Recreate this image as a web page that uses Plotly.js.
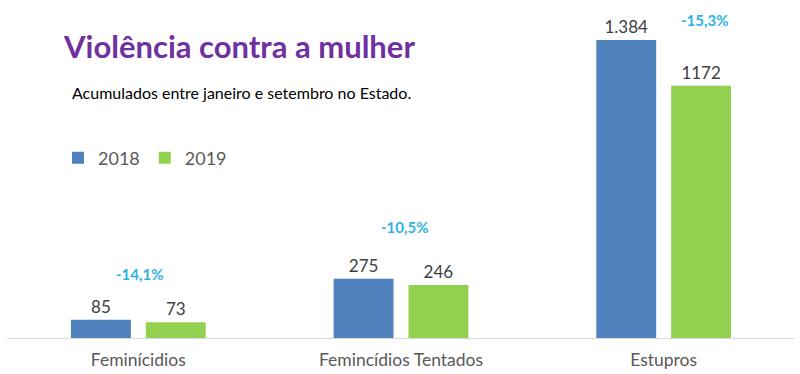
<!DOCTYPE html>
<html>
<head>
<meta charset="utf-8">
<script src="https://cdn.plot.ly/plotly-3.0.1.min.js"></script>
<style>html,body{margin:0;padding:0;background:#fff;}#chart{width:800px;height:374px;}</style>
</head>
<body>
<div id="chart"></div>
<script>
const categories = ["Feminícidios", "Femincídios Tentados", "Estupros"];
const values2018 = [85, 275, 1384];
const values2019 = [73, 246, 1172];
const labels2018 = ["85", "275", "1.384"];
const labels2019 = ["73", "246", "1172"];
const changeLabels = ["-14,1%", "-10,5%", "-15,3%"];
const changeY = [297, 515, 1477];
const changeShift = [2, 4, 41];

const FONT = "Lato, 'Open Sans', sans-serif";

const traces = [
  {type: "bar", name: "2018", x: categories, y: values2018, text: labels2018,
   textposition: "outside", cliponaxis: false,
   textfont: {family: FONT, size: 17, color: "#404040"},
   marker: {color: "#4f81bd"}, hoverinfo: "none"},
  {type: "bar", name: "2019", x: categories, y: values2019, text: labels2019,
   textposition: "outside", cliponaxis: false,
   textfont: {family: FONT, size: 17, color: "#404040"},
   marker: {color: "#92d050"}, hoverinfo: "none"}
];

const annotations = changeLabels.map((t, i) => ({
  x: categories[i], y: changeY[i], xref: "x", yref: "y", xshift: changeShift[i],
  text: "<b>" + t + "</b>", showarrow: false,
  font: {family: FONT, size: 15, color: "#2eb2e6"}
}));
annotations.push({
  xref: "paper", yref: "paper", x: (70 - 7) / 788, y: (338 - 93) / 318,
  xanchor: "left", yanchor: "middle", showarrow: false,
  text: "Acumulados entre janeiro e setembro no Estado.",
  font: {family: FONT, size: 16, color: "#000000"}
});

const layout = {
  width: 800, height: 374,
  margin: {l: 7, r: 5, t: 20, b: 36},
  paper_bgcolor: "#ffffff", plot_bgcolor: "#ffffff",
  title: {text: "<b>Violência contra a mulher</b>", xref: "container", yref: "container",
          x: 64 / 800, xanchor: "left", y: 1 - 47 / 374, yanchor: "middle",
          font: {family: FONT, size: 31, color: "#7030a0"}},
  barmode: "group", bargap: 0.43, bargroupgap: 0.2,
  xaxis: {showline: true, linecolor: "#d9d9d9", linewidth: 1, ticks: "", ticklabelstandoff: 6,
          tickfont: {family: FONT, size: 17.5, color: "#595959"}, fixedrange: true},
  yaxis: {range: [0, 1477], visible: false, showgrid: false, zeroline: false, fixedrange: true},
  showlegend: true,
  legend: {orientation: "h", x: (58 - 7) / 788, y: (338 - 158) / 318, xanchor: "left", yanchor: "middle",
           font: {family: FONT, size: 18, color: "#595959"}, itemwidth: 30, traceorder: "normal"},
  annotations: annotations
};

Plotly.newPlot("chart", traces, layout, {displayModeBar: false, staticPlot: true});
</script>
</body>
</html>
